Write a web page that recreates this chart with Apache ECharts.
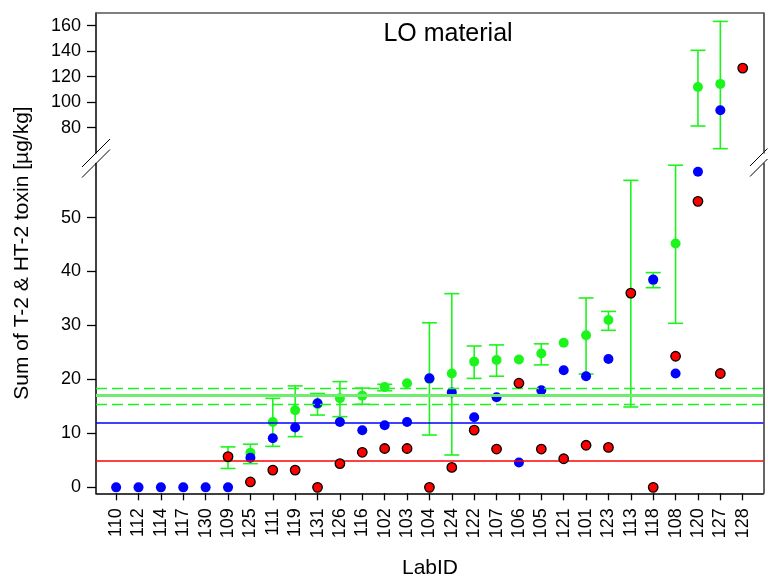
<!DOCTYPE html>
<html>
<head>
<meta charset="utf-8">
<script src="https://cdn.jsdelivr.net/npm/echarts@6/dist/echarts.min.js"></script>
<style>
  html, body { margin: 0; padding: 0; background: #fff; }
  #chart { width: 768px; height: 578px; }
</style>
</head>
<body>
<div id="chart"></div>
<script>
// Lab order along the x axis
const labIds = ['110', '112', '114', '117', '130', '109', '125', '111', '119', '131', '126', '116', '102', '103', '104',
  '124', '122', '107', '106', '105', '121', '101', '123', '113', '118', '108', '120', '127', '128'];

// red points (black outline)
const redVals = [null, null, null, null, null, 5.7, 1.0, 3.2, 3.2, 0, 4.4, 6.5, 7.2, 7.2, 0,
  3.7, 10.6, 7.1, 19.3, 7.1, 5.3, 7.8, 7.4, 36.0, 0, 24.3, 53.0, 21.1, 126.7];
// blue points
const blueVals = [0, 0, 0, 0, 0, 0, 5.5, 9.1, 11.1, 15.6, 12.1, 10.6, 11.5, 12.1, 20.2,
  17.6, 13.0, 16.7, 4.6, 18.0, 21.7, 20.6, 23.8, null, 38.5, 21.1, 58.5, 93.6, null];
// green points + error bars
const greenVals = [null, null, null, null, null, 5.5, 6.4, 12.1, 14.3, 15.4, 16.5, 17.0, 18.6, 19.3, 20.1,
  21.1, 23.3, 23.6, 23.7, 24.8, 26.8, 28.2, 31.0, 35.9, 38.4, 45.2, 111.8, 114.3, null];
const greenLow = [null, null, null, null, null, 3.5, 4.4, 7.6, 9.4, 13.4, 13.1, 15.4, 17.9, null, 9.7,
  6.0, 20.2, 20.6, null, 22.7, null, 21.0, 29.1, 14.9, 37.0, 30.4, 81.2, 63.4, null];
const greenHigh = [null, null, null, null, null, 7.5, 8.0, 16.5, 18.8, 17.4, 19.6, 18.4, 19.1, null, 30.5,
  35.9, 26.2, 26.4, null, 26.6, null, 35.1, 32.6, 56.9, 39.8, 59.7, 140.7, 163.4, null];

// reference lines
const redRef = 4.9;
const blueRef = 12.0;
const greenRef = 17.0;
const greenRefBand = [15.4, 18.4];

// broken y axis: upper and lower parts
const upperRange = [60, 170];
const lowerRange = [-1.1, 60];
const upperTicks = [80, 100, 120, 140, 160];
const lowerTicks = [0, 10, 20, 30, 40, 50];

const FONT = 'Liberation Sans, Arial, sans-serif';
const GREEN = '#1cf51c';
const xIdx = labIds.map((_, i) => i);

const chart = echarts.init(document.getElementById('chart'));

function inPanel(p, v) {
  return p === 0 ? v >= upperRange[0] : v < lowerRange[1];
}

function points(vals, p) {
  return vals.map((v, i) => [i, v]).filter(d => d[1] != null && inPanel(p, d[1]));
}

function errorBars(p) {
  const out = [];
  greenLow.forEach((lo, i) => {
    if (lo == null || greenHigh[i] == null) return;
    if (inPanel(p, greenHigh[i]) && inPanel(p, lo)) out.push([i, lo, greenHigh[i]]);
  });
  return out;
}

function renderBar(params, api) {
  const x = api.value(0);
  const lo = api.coord([x, api.value(1)]);
  const hi = api.coord([x, api.value(2)]);
  const hw = 7.5;
  const st = { stroke: GREEN, lineWidth: 1.6 };
  return {
    type: 'group',
    children: [
      { type: 'line', shape: { x1: lo[0], y1: lo[1], x2: hi[0], y2: hi[1] }, style: st },
      { type: 'line', shape: { x1: lo[0] - hw, y1: lo[1], x2: lo[0] + hw, y2: lo[1] }, style: st },
      { type: 'line', shape: { x1: hi[0] - hw, y1: hi[1], x2: hi[0] + hw, y2: hi[1] }, style: st }
    ]
  };
}

const series = [];
[0, 1].forEach(p => {
  const ax = { xAxisIndex: p, yAxisIndex: p * 2 };
  series.push({
    type: 'custom', ...ax, z: 2, silent: true,
    renderItem: renderBar,
    encode: { x: 0, y: [1, 2] },
    data: errorBars(p)
  });
  series.push({
    type: 'scatter', ...ax, z: 3, symbolSize: 10, silent: true,
    itemStyle: { color: GREEN, opacity: 1 },
    data: points(greenVals, p)
  });
  series.push({
    type: 'scatter', ...ax, z: 4, symbolSize: 10, silent: true,
    itemStyle: { color: '#0000ff', opacity: 1 },
    data: points(blueVals, p)
  });
  series.push({
    type: 'scatter', ...ax, z: 5, symbolSize: 9.5, silent: true,
    itemStyle: { color: '#ff0000', borderColor: '#000', borderWidth: 1.3, opacity: 1 },
    data: points(redVals, p)
  });
});

// horizontal reference lines (lower panel only)
series.push({
  type: 'line', xAxisIndex: 1, yAxisIndex: 2, z: 1, data: [],
  markLine: {
    silent: true, symbol: 'none', label: { show: false }, animation: false,
    data: [
      { yAxis: redRef, lineStyle: { color: '#ff0000', width: 1.5, type: 'solid' } },
      { yAxis: blueRef, lineStyle: { color: '#0000ff', width: 1.5, type: 'solid' } },
      { yAxis: greenRef, lineStyle: { color: '#6fec6f', width: 3, type: 'solid' } },
      { yAxis: greenRefBand[0], lineStyle: { color: GREEN, width: 1.3, type: [11, 5] } },
      { yAxis: greenRefBand[1], lineStyle: { color: GREEN, width: 1.3, type: [11, 5] } }
    ]
  }
});

const axisLineStyle = { color: '#000', width: 1.5 };
const noSplit = { show: false };

function yPair(grid, range, ticks) {
  return [
    {
      type: 'value', gridIndex: grid, min: range[0], max: range[1],
      axisLine: { show: true, onZero: false, lineStyle: axisLineStyle },
      axisTick: { show: true, customValues: ticks, length: 9, lineStyle: { color: '#000', width: 1.3 } },
      axisLabel: { customValues: ticks, fontSize: 18, color: '#000', fontFamily: FONT, margin: 15 },
      splitLine: noSplit
    },
    {
      type: 'value', gridIndex: grid, position: 'right', min: range[0], max: range[1],
      axisLine: { show: true, onZero: false, lineStyle: { color: '#333', width: 1.5 } },
      axisTick: { show: false }, axisLabel: { show: false }, splitLine: noSplit
    }
  ];
}

const option = {
  animation: false,
  textStyle: { fontFamily: FONT },
  title: {
    text: 'LO material', left: 443, top: 17, textAlign: 'center',
    textStyle: { fontSize: 25, fontWeight: 'normal', color: '#000', fontFamily: FONT }
  },
  grid: [
    { left: 96, right: 4.7, top: 13, height: 140 },
    { left: 96, right: 4.7, top: 163.6, bottom: 84.7 }
  ],
  xAxis: [
    {
      type: 'value', gridIndex: 0, min: -0.9, max: 28.92, position: 'top',
      axisLine: { show: true, onZero: false, lineStyle: { color: '#555', width: 1.5 } },
      axisTick: { show: false }, axisLabel: { show: false }, splitLine: noSplit
    },
    {
      type: 'value', gridIndex: 1, min: -0.9, max: 28.92, position: 'bottom',
      axisLine: { show: true, onZero: false, lineStyle: axisLineStyle },
      axisTick: { show: true, customValues: xIdx, length: 7, lineStyle: { color: '#000', width: 1.3 } },
      axisLabel: {
        customValues: xIdx, rotate: 90, margin: 15, fontSize: 18, color: '#000', fontFamily: FONT,
        formatter: v => labIds[Math.round(v)]
      },
      splitLine: noSplit
    }
  ],
  yAxis: [...yPair(0, upperRange, upperTicks), ...yPair(1, lowerRange, lowerTicks)],
  graphic: [
    {
      type: 'text', x: 22, y: 253, rotation: Math.PI / 2,
      style: { text: 'Sum of T-2 & HT-2 toxin [µg/kg]', align: 'center', verticalAlign: 'middle',
        font: '21px ' + FONT, fill: '#000' }
    },
    {
      type: 'text', x: 430, y: 568,
      style: { text: 'LabID', align: 'center', verticalAlign: 'middle', font: '21px ' + FONT, fill: '#000' }
    },
    // axis break marks
    { type: 'line', shape: { x1: 82, y1: 167, x2: 110, y2: 139 }, style: { stroke: '#000', lineWidth: 1 } },
    { type: 'line', shape: { x1: 82, y1: 177.5, x2: 110, y2: 149.5 }, style: { stroke: '#000', lineWidth: 1 } },
    { type: 'line', shape: { x1: 750, y1: 166, x2: 767.5, y2: 148.5 }, style: { stroke: '#000', lineWidth: 1 } },
    { type: 'line', shape: { x1: 750, y1: 176.5, x2: 767.5, y2: 159 }, style: { stroke: '#000', lineWidth: 1 } }
  ],
  series: series
};

chart.setOption(option);
</script>
</body>
</html>
